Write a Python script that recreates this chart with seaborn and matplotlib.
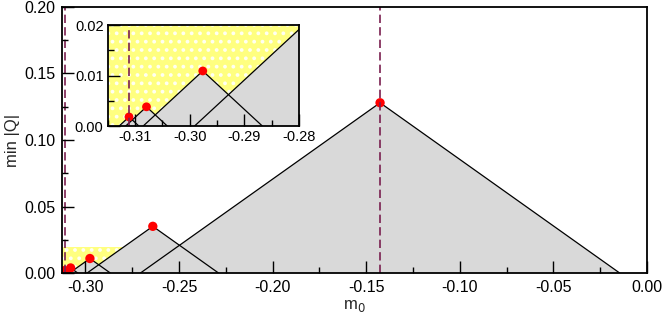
import numpy as np
import pandas as pd
import seaborn as sns
import matplotlib.pyplot as plt
from matplotlib.patches import Rectangle
from matplotlib.ticker import AutoMinorLocator, FormatStrFormatter

# peaks of the cones
peak_x = [-0.3111, -0.3079, -0.2976, -0.2640, -0.1426]
peak_y = [0.0018, 0.0038, 0.0109, 0.0351, 0.1280]
base_left = [-0.3129, -0.3117, -0.3085, -0.2991, -0.2706]
base_right = [-0.3093, -0.3041, -0.2867, -0.2289, -0.0146]
dashed_x = [-0.3111, -0.1426]
main_xticks = [-0.30, -0.25, -0.20, -0.15, -0.10, -0.05, 0.00]
main_yticks = [0.00, 0.05, 0.10, 0.15, 0.20]
inset_xticks = [-0.31, -0.30, -0.29, -0.28]
inset_yticks = [0.00, 0.01, 0.02]

gris = '#d9d9d9'
amarillo = '#ffff80'
morado = '#7a1f4f'

sns.set_theme(style='ticks')
plt.rcParams['font.family'] = ['Liberation Sans', 'DejaVu Sans']
plt.rcParams['hatch.linewidth'] = 1.5
plt.rcParams['axes.axisbelow'] = False
for eje in ['xtick', 'ytick']:
    plt.rcParams[f'{eje}.direction'] = 'in'
    plt.rcParams[f'{eje}.color'] = 'black'
    plt.rcParams[f'{eje}.major.size'] = 8.5
    plt.rcParams[f'{eje}.minor.size'] = 4.3
    plt.rcParams[f'{eje}.major.width'] = 1.0
    plt.rcParams[f'{eje}.minor.width'] = 1.0
    plt.rcParams[f'{eje}.minor.visible'] = True

df = pd.DataFrame({'m0': peak_x, 'q': peak_y})

def dibujar(ax, x0, x1, y1, tam_punto):
    '''dibuja la zona amarilla, los conos, los puntos y las lineas discontinuas'''
    ax.add_patch(Rectangle((x0, 0), x1 - x0, y1, facecolor=amarillo,
                           edgecolor='#fffff2', lw=0, hatch='..', zorder=0.1))
    for xl, xp, yp, xr in zip(base_left, peak_x, peak_y, base_right):
        ax.fill([xl, xp, xr], [0, yp, 0], color=gris, lw=0, zorder=0.2)
    for xl, xp, yp, xr in zip(base_left, peak_x, peak_y, base_right):
        ax.plot([xl, xp, xr], [0, yp, 0], color='black', lw=0.9, zorder=0.3)
    sns.scatterplot(data=df, x='m0', y='q', ax=ax, color='red', s=tam_punto,
                    edgecolor='none', zorder=0.4, legend=False)
    for xd in dashed_x:
        ax.axvline(xd, color=morado, lw=1.2, ls=(0, (5, 2.5)), zorder=0.45)
    for s in ax.spines.values():
        s.set_linewidth(1.3)
        s.set_edgecolor('black')
    ax.set_xlabel('')
    ax.set_ylabel('')

fig = plt.figure(figsize=(6.64, 3.15), dpi=100)
ax = fig.add_axes([0.0934, 0.1333, 0.8810, 0.8445])
dibujar(ax, -0.3125, -0.28, 0.0193, 45)
ax.set_xlim(-0.3125, 0.0)
ax.set_ylim(0, 0.20)
ax.set_xticks(main_xticks)
ax.set_yticks(main_yticks)
ax.xaxis.set_minor_locator(AutoMinorLocator(2))
ax.yaxis.set_minor_locator(AutoMinorLocator(2))
ax.xaxis.set_major_formatter(FormatStrFormatter('%.2f'))
ax.yaxis.set_major_formatter(FormatStrFormatter('%.2f'))
ax.tick_params(axis='both', which='major', labelsize=11.5, pad=5)
ax.set_xlabel('m$_0$', fontsize=12, labelpad=2)
ax.set_ylabel('min |Q|', fontsize=12, labelpad=3)

axi = fig.add_axes([0.1622, 0.6, 0.288, 0.3206])
dibujar(axi, -0.315, -0.28, 0.02, 40)
axi.set_xlim(-0.315, -0.28)
axi.set_ylim(0, 0.02)
axi.set_xticks(inset_xticks)
axi.set_yticks(inset_yticks)
axi.xaxis.set_minor_locator(AutoMinorLocator(2))
axi.yaxis.set_minor_locator(AutoMinorLocator(2))
axi.xaxis.set_major_formatter(FormatStrFormatter('%.2f'))
axi.yaxis.set_major_formatter(FormatStrFormatter('%.2f'))
axi.tick_params(axis='both', which='major', labelsize=10.5, pad=3)

fig.savefig('out.png', dpi=100)
